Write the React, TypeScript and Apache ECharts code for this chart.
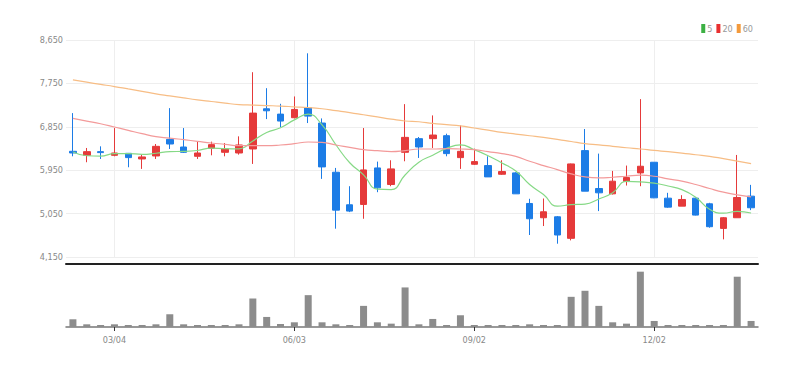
import React, { useEffect, useRef } from "react";
import * as echarts from "echarts";

const DATES = [
  "02/11","02/18","02/25","03/04","03/11","03/18","03/25","04/01","04/08","04/15",
  "04/22","04/29","05/06","05/13","05/20","05/27","06/03","06/10","06/17","06/24",
  "07/01","07/08","07/15","07/22","07/29","08/05","08/12","08/19","08/26","09/02",
  "09/09","09/16","09/23","09/30","10/07","10/14","10/21","10/28","11/04","11/11",
  "11/18","11/25","12/02","12/09","12/16","12/23","12/30","01/06","01/13","01/20",
];
const TICK_LABELS = ["03/04", "06/03", "09/02", "12/02"];

const OPEN = [6342,6259,6335,6259,6300,6183,6245,6590,6431,6238,6404,6321,6307,6390,7224,7113,7038,7244,6928,5908,5233,5240,5997,5653,6321,6604,6604,6666,6211,6073,6046,5866,5894,5260,4964,4984,4537,6356,5570,5460,5715,5894,6115,5370,5205,5370,5253,4743,4964,5412];
const CLOSE = [6307,6335,6315,6307,6211,6225,6445,6493,6321,6307,6480,6390,6473,7134,7182,6969,7210,7072,6018,5122,5102,5956,5584,5977,6631,6431,6679,6294,6342,6128,5811,5922,5460,4943,5088,4606,6080,5515,5481,5722,5797,6032,5377,5184,5343,5019,4778,4964,5384,5171];
const LOW = [6238,6115,6183,6238,6011,5977,6183,6390,6307,6183,6259,6238,6273,6080,7010,6845,7024,6928,5770,4737,5081,4943,5494,5618,6135,6204,6411,6238,5977,6059,5811,5853,5460,4606,4792,4426,4495,5515,5102,5446,5632,5618,5370,5171,5205,5012,4757,4516,4964,5122];
const HIGH = [7134,6411,6445,6824,6307,6266,6493,7237,6824,6542,6542,6514,6652,7982,7651,7327,7479,8374,7024,5997,5618,6824,6128,6156,7320,6638,7086,6707,6879,6397,6238,6156,5908,5357,5363,5000,6087,6804,6294,5935,6046,7424,6115,5481,5432,5384,5274,4978,6266,5646];

const MA5 = [6328,6250,6240,6294,6295,6279,6301,6336,6339,6358,6409,6398,6394,6557,6732,6830,6994,7113,6890,6478,6105,5854,5556,5548,5850,6116,6260,6402,6475,6375,6251,6099,5933,5653,5445,5204,5235,5246,5354,5481,5719,5709,5682,5622,5547,5391,5140,5058,5098,5063];
const MA20 = [7024,6969,6914,6845,6776,6707,6645,6617,6583,6549,6514,6487,6459,6459,6459,6473,6500,6535,6528,6473,6425,6376,6356,6335,6356,6390,6390,6397,6390,6376,6335,6294,6238,6135,6046,5963,5873,5811,5791,5804,5825,5846,5825,5770,5722,5653,5570,5494,5439,5398];
const MA60 = [7823,7775,7730,7685,7635,7585,7534,7492,7450,7410,7375,7340,7310,7300,7290,7280,7265,7250,7224,7185,7145,7100,7055,7010,6970,6955,6920,6895,6870,6825,6780,6735,6700,6665,6630,6590,6545,6500,6475,6445,6415,6390,6360,6335,6305,6270,6238,6190,6140,6087];

const VOLUME = [23,8,3,8,3,3,8,38,8,3,3,3,8,85,30,9,14,95,14,8,3,63,14,10,118,8,24,3,35,3,3,3,3,8,3,3,90,108,63,14,10,165,18,3,3,3,3,3,150,18];

const Y_TICKS = { min: 4150, max: 8650, step: 900 };

const RED = "#e53a3a";
const BLUE = "#1c7ce6";
const FONT = "'Liberation Sans Narrow', 'DejaVu Sans Condensed', 'Roboto', sans-serif";

const showAt = (_i: number, v: string) => TICK_LABELS.includes(v);

export default function App() {
  const ref = useRef<HTMLDivElement>(null);
  useEffect(() => {
    if (!ref.current) return;
    const chart = echarts.init(ref.current, null, { renderer: "svg" });
    const candle = DATES.map((_, i) => [OPEN[i], CLOSE[i], LOW[i], HIGH[i]]);
    chart.setOption({
      animation: false,
      backgroundColor: "#fff",
      legend: {
        right: 48,
        top: 19,
        itemWidth: 4,
        itemHeight: 9,
        itemGap: 4,
        icon: "rect",
        textStyle: { fontSize: 9, color: "#999", fontFamily: FONT, padding: [0, 0, 0, -3] },
        data: ["5", "20", "60"],
      },
      grid: [
        { left: 66, right: 48, top: 40, height: 217 },
        { left: 66, right: 48, top: 270, height: 57 },
      ],
      xAxis: [
        {
          type: "category",
          gridIndex: 0,
          data: DATES,
          offset: 7,
          axisLine: { show: true, lineStyle: { color: "#222", width: 2 } },
          axisTick: { show: false, alignWithLabel: true, interval: showAt },
          axisLabel: { show: false, interval: showAt },
          splitLine: { show: true, interval: showAt, alignWithLabel: true, lineStyle: { color: "#eee", width: 1 } },
        },
        {
          type: "category",
          gridIndex: 1,
          data: DATES,
          axisLine: { show: true, lineStyle: { color: "#777", width: 1.5 } },
          axisTick: { show: true, interval: showAt, alignWithLabel: true, length: 4, lineStyle: { color: "#333" } },
          axisLabel: { show: true, interval: showAt, fontSize: 9, color: "#888", fontFamily: FONT, margin: 8 },
          splitLine: { show: false },
        },
      ],
      yAxis: [
        {
          type: "value",
          gridIndex: 0,
          min: Y_TICKS.min,
          max: Y_TICKS.max,
          interval: Y_TICKS.step,
          axisLine: { show: false },
          axisTick: { show: false },
          axisLabel: {
            fontSize: 9,
            color: "#888",
            fontFamily: FONT,
            margin: 3,
            formatter: (v: number) => v.toLocaleString("en-US"),
          },
          splitLine: { lineStyle: { color: "#eee", width: 1 } },
        },
        {
          type: "value",
          gridIndex: 1,
          min: 0,
          max: 170,
          show: false,
          splitLine: { show: false },
        },
      ],
      series: [
        {
          type: "candlestick",
          xAxisIndex: 0,
          yAxisIndex: 0,
          data: candle,
          barWidth: 7,
          itemStyle: { color: RED, color0: BLUE, borderColor: RED, borderColor0: BLUE, borderWidth: 1 },
        },
        {
          name: "5",
          type: "line",
          data: MA5,
          symbol: "none",
          smooth: true,
          lineStyle: { color: "#86d986", width: 1.2 },
          itemStyle: { color: "#3cb043" },
        },
        {
          name: "20",
          type: "line",
          data: MA20,
          symbol: "none",
          smooth: true,
          lineStyle: { color: "#f39a9a", width: 1.2 },
          itemStyle: { color: "#e83030" },
        },
        {
          name: "60",
          type: "line",
          data: MA60,
          symbol: "none",
          smooth: true,
          lineStyle: { color: "#f7bd85", width: 1.2 },
          itemStyle: { color: "#f39a3c" },
        },
        {
          type: "bar",
          xAxisIndex: 1,
          yAxisIndex: 1,
          data: VOLUME,
          barWidth: 7,
          barMinHeight: 2,
          itemStyle: { color: "#8c8c8c" },
        },
      ],
    });
    return () => chart.dispose();
  }, []);
  return (
    <div
      ref={ref}
      style={{ position: "fixed", left: 0, top: 0, width: 806, height: 367 }}
    />
  );
}
